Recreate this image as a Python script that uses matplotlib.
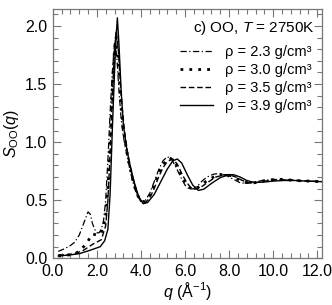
import matplotlib
matplotlib.use("Agg")
import matplotlib.pyplot as plt
from matplotlib.ticker import MultipleLocator, FormatStrFormatter

plt.rcParams['font.family'] = ['Liberation Sans', 'DejaVu Sans']
plt.rcParams['mathtext.fontset'] = 'custom'
plt.rcParams['mathtext.rm'] = 'Liberation Sans'
plt.rcParams['mathtext.it'] = 'Liberation Sans:italic'

# rho = 2.3 g/cm3 (dash-dot)
q23 = [0.25, 0.5, 0.8, 1.0, 1.2, 1.4, 1.6, 1.7, 1.8, 1.9, 2.0, 2.1, 2.2, 2.3, 2.4, 2.5, 2.6, 2.7,
       2.8, 2.9, 3.0, 3.1, 3.2, 3.4, 3.6, 3.8, 4.0, 4.2, 4.4, 4.6, 4.8, 5.0, 5.2, 5.4, 5.6, 5.8,
       6.0, 6.2, 6.4, 6.6, 6.8, 7.0, 7.3, 7.6, 7.9, 8.2, 8.5, 8.8, 9.1, 9.5, 10.0, 10.5, 11.0, 11.5, 12.2]
s23 = [0.06, 0.08, 0.11, 0.14, 0.20, 0.30, 0.40, 0.38, 0.30, 0.25, 0.22, 0.22, 0.25, 0.32, 0.50, 0.85, 1.25, 1.60,
       1.85, 1.75, 1.45, 1.20, 1.05, 0.85, 0.68, 0.55, 0.49, 0.50, 0.56, 0.66, 0.76, 0.84, 0.875, 0.85, 0.78, 0.70,
       0.63, 0.595, 0.60, 0.63, 0.67, 0.70, 0.725, 0.73, 0.71, 0.68, 0.65, 0.645, 0.655, 0.67, 0.68, 0.675, 0.67, 0.665, 0.66]

# rho = 3.0 g/cm3 (dotted)
q30 = [0.25, 0.6, 1.0, 1.2, 1.4, 1.6, 1.8, 2.0, 2.2, 2.4, 2.5, 2.6, 2.7, 2.8, 2.87, 2.95, 3.05, 3.2,
       3.4, 3.6, 3.8, 4.0, 4.2, 4.4, 4.6, 4.8, 5.0, 5.3, 5.5, 5.7, 5.9, 6.1, 6.3, 6.5, 6.7, 7.0, 7.4,
       7.8, 8.1, 8.4, 8.7, 9.0, 9.4, 9.8, 10.4, 11.0, 11.6, 12.2]
s30 = [0.02, 0.025, 0.04, 0.06, 0.10, 0.15, 0.21, 0.20, 0.22, 0.35, 0.60, 1.00, 1.45, 1.80, 1.90, 1.75, 1.45, 1.10,
       0.87, 0.70, 0.56, 0.49, 0.49, 0.54, 0.63, 0.73, 0.81, 0.865, 0.84, 0.77, 0.69, 0.63, 0.595, 0.60, 0.625, 0.67, 0.71,
       0.725, 0.71, 0.68, 0.655, 0.645, 0.66, 0.675, 0.68, 0.67, 0.665, 0.66]

# rho = 3.5 g/cm3 (dashed)
q35 = [0.25, 0.6, 1.0, 1.4, 1.8, 2.0, 2.2, 2.4, 2.5, 2.6, 2.7, 2.8, 2.88, 2.97, 3.1, 3.25, 3.4, 3.6,
       3.8, 4.0, 4.2, 4.4, 4.6, 4.8, 5.0, 5.2, 5.45, 5.65, 5.85, 6.05, 6.25, 6.45, 6.7, 7.0, 7.4, 7.8,
       8.0, 8.3, 8.6, 8.9, 9.2, 9.6, 10.2, 10.8, 11.5, 12.2]
s35 = [0.03, 0.03, 0.04, 0.07, 0.12, 0.14, 0.16, 0.28, 0.50, 0.90, 1.40, 1.80, 1.96, 1.80, 1.40, 1.10, 0.90, 0.72,
       0.57, 0.49, 0.48, 0.52, 0.60, 0.70, 0.78, 0.835, 0.855, 0.81, 0.73, 0.66, 0.61, 0.595, 0.61, 0.65, 0.70, 0.72,
       0.72, 0.70, 0.67, 0.65, 0.65, 0.665, 0.675, 0.675, 0.665, 0.66]

# rho = 3.9 g/cm3 (solid)
q39 = [0.25, 0.8, 1.2, 1.7, 2.15, 2.35, 2.5, 2.6, 2.7, 2.8, 2.87, 2.93, 3.0, 3.1, 3.2, 3.35, 3.5, 3.7,
       3.9, 4.1, 4.3, 4.6, 4.9, 5.2, 5.45, 5.65, 5.85, 6.1, 6.35, 6.6, 6.85, 7.2, 7.6, 8.0, 8.2, 8.5,
       8.8, 9.1, 9.5, 10.0, 10.5, 11.0, 11.5, 12.2]
s39 = [0.02, 0.03, 0.04, 0.07, 0.10, 0.15, 0.25, 0.55, 1.10, 1.60, 1.90, 2.07, 1.85, 1.45, 1.15, 0.95, 0.80, 0.65,
       0.53, 0.47, 0.48, 0.55, 0.66, 0.77, 0.84, 0.855, 0.82, 0.72, 0.63, 0.585, 0.595, 0.645, 0.695, 0.72, 0.72, 0.70,
       0.67, 0.655, 0.655, 0.665, 0.67, 0.67, 0.665, 0.66]

fig = plt.figure(figsize=(3.32, 3.05), dpi=100)
ax = fig.add_axes([0.159, 0.153, 0.81, 0.819])

ax.plot(q23, s23, color='black', lw=0.9, linestyle=(0, (5, 2, 1, 2)), label='ρ = 2.3 g/cm³')
ax.plot(q30, s30, color='black', lw=2.0, linestyle=(0, (1, 2.2)), label='ρ = 3.0 g/cm³')
ax.plot(q35, s35, color='black', lw=1.0, linestyle=(0, (4, 2)), label='ρ = 3.5 g/cm³')
ax.plot(q39, s39, color='black', lw=1.0, linestyle='-', label='ρ = 3.9 g/cm³')

ax.set_xlim(0, 12.2)
ax.set_ylim(0, 2.15)
ax.xaxis.set_major_locator(MultipleLocator(2.0))
ax.xaxis.set_minor_locator(MultipleLocator(0.4))
ax.yaxis.set_major_locator(MultipleLocator(0.5))
ax.yaxis.set_minor_locator(MultipleLocator(0.1))
ax.xaxis.set_major_formatter(FormatStrFormatter('%.1f'))
ax.yaxis.set_major_formatter(FormatStrFormatter('%.1f'))

ax.tick_params(which='both', direction='in', top=True, right=True, color='#777777', labelsize=11.5)
ax.tick_params(which='major', length=6, width=0.8, pad=4)
ax.tick_params(which='minor', length=3.5, width=0.8)
for sp in ax.spines.values():
    sp.set_color('#777777')
    sp.set_linewidth(0.9)

ax.set_xlabel(r'$q$ (Å$^{-1}$)', fontsize=11.5, labelpad=1)
ax.set_ylabel(r'$S_{\rm OO}(q)$', fontsize=11.5, labelpad=3)

ax.text(0.975, 0.96, r'c) OO, $T$ = 2750K', transform=ax.transAxes, ha='right', va='top', fontsize=11)

leg = ax.legend(loc='upper right', bbox_to_anchor=(1.0, 0.895), frameon=False, fontsize=10.5,
                handlelength=2.3, handletextpad=0.8, labelspacing=0.28, borderaxespad=0.3)

fig.savefig('out.png', dpi=100)
